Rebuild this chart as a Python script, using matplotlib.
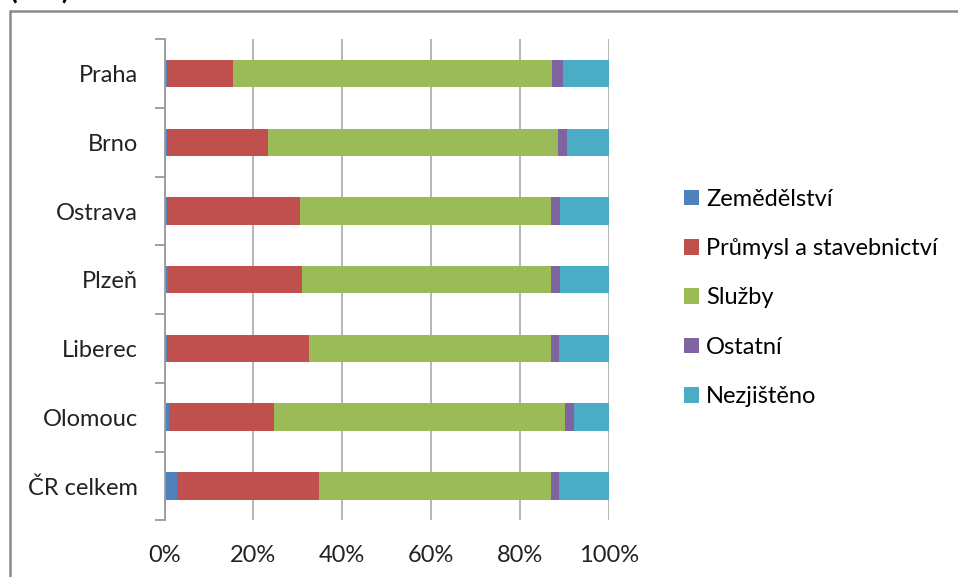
import numpy as np
import matplotlib.pyplot as plt
from matplotlib.patches import Rectangle
from matplotlib.ticker import FixedLocator

plt.rcParams['font.family'] = ['Lato', 'DejaVu Sans']

# data (shares in %)
cities = ['Praha', 'Brno', 'Ostrava', 'Plzeň', 'Liberec', 'Olomouc', 'ČR celkem']
zemedelstvi = [0.5, 0.5, 0.5, 0.7, 0.6, 1.1, 2.8]
prumysl = [15.0, 22.8, 30.0, 30.2, 31.9, 23.6, 32.0]
sluzby = [71.7, 65.2, 56.5, 56.1, 54.5, 65.5, 52.2]
ostatni = [2.4, 2.0, 2.0, 2.0, 1.7, 2.0, 1.7]
nezjisteno = [10.4, 9.5, 11.0, 11.0, 11.3, 7.8, 11.3]

series = [
    ('Zemědělství', zemedelstvi, '#4F81BD'),
    ('Průmysl a stavebnictví', prumysl, '#C0504D'),
    ('Služby', sluzby, '#9BBB59'),
    ('Ostatní', ostatni, '#8064A2'),
    ('Nezjištěno', nezjisteno, '#4BACC6'),
]
xticks = [0, 20, 40, 60, 80, 100]

W, H = 958, 577
fig = plt.figure(figsize=(W / 100, H / 100), dpi=100)
ax = fig.add_axes([164.5 / W, 1 - 520.2 / H, 444.5 / W, 480.9 / H])

# chart border (only top and left edge visible in the crop)
fig.add_artist(Rectangle((10 / W, -0.1), 1.2, 1.1 - 10.5 / H, transform=fig.transFigure,
                         fill=False, edgecolor='#8a8a8a', linewidth=1.8))
# title cut off at the top edge, only the bottom of the brackets shows
fig.text(10 / W, 1 + 1 / H, '(v %)', fontsize=20, fontweight='bold', va='baseline', ha='left')

y = np.arange(len(cities))
totals = np.array([sum(s[1][i] for s in series) for i in range(len(cities))])
left = np.zeros(len(cities))
for name, vals, col in series:
    v = np.array(vals) / totals * 100
    ax.barh(y, v, left=left, height=0.4, color=col, label=name, zorder=3)
    left += v

ax.set_ylim(len(cities) - 0.5, -0.5)
ax.set_xlim(0, 100)
ax.set_xticks(xticks)
ax.set_xticklabels([f'{t}%' for t in xticks])
ax.xaxis.grid(True, color='#b0b0b0', linewidth=1.3, zorder=0)
ax.tick_params(axis='x', length=0, pad=18, labelsize=17, colors='#222222')

ax.set_yticks(y)
ax.set_yticklabels(cities)
ax.yaxis.set_minor_locator(FixedLocator(np.arange(-0.5, len(cities), 1.0)))
ax.tick_params(axis='y', which='major', length=0, pad=19, labelsize=17, colors='#222222')
ax.tick_params(axis='y', which='minor', length=7, width=1.3, color='#9a9a9a')

for side in ['top', 'right', 'bottom']:
    ax.spines[side].set_visible(False)
ax.spines['left'].set_color('#9a9a9a')
ax.spines['left'].set_linewidth(1.3)
ax.spines['left'].set_zorder(4)

leg = ax.legend(loc='center left', bbox_to_anchor=(672 / W, 1 - 298 / H), bbox_transform=fig.transFigure,
                frameon=False, fontsize=17, handlelength=0.65, handleheight=0.65,
                handletextpad=0.3, labelspacing=1.2, borderpad=0)

fig.savefig('out.png', dpi=100)
